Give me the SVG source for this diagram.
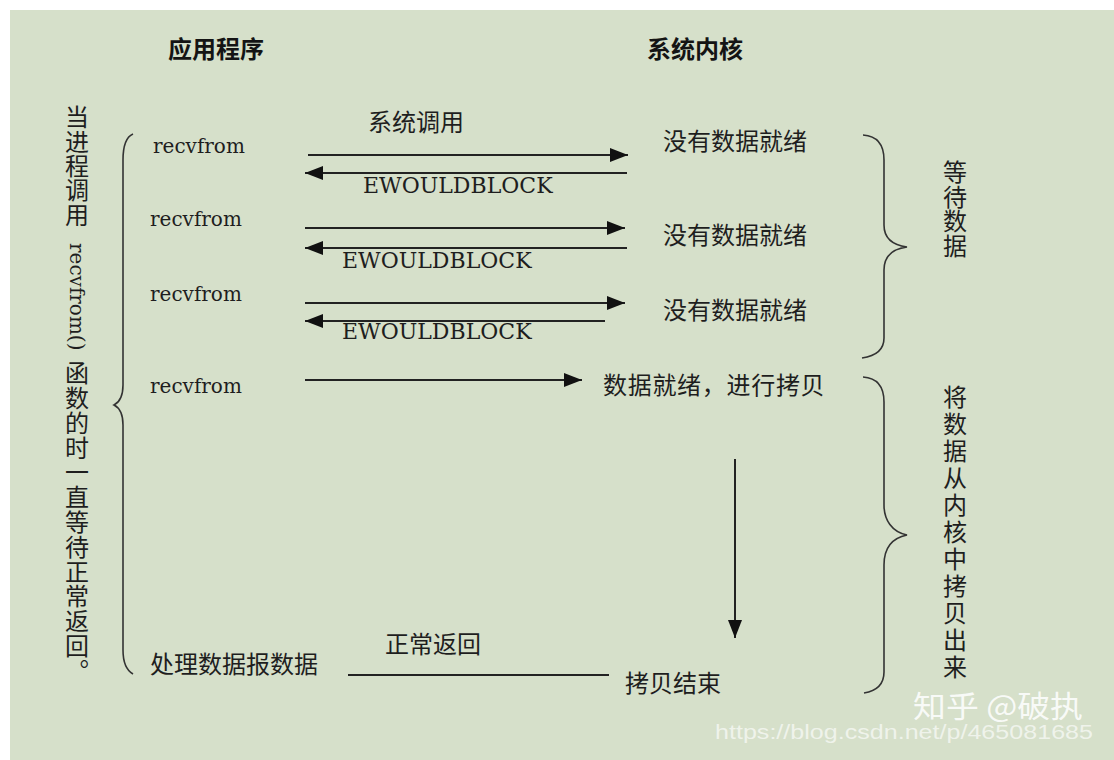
<svg xmlns="http://www.w3.org/2000/svg" width="1114" height="760" viewBox="0 0 1114 760">
<defs>
<style>
.cjk{font-family:"Noto Sans CJK SC","Noto Sans",sans-serif;font-size:24px;fill:#1e1e1e}
.hdr{font-family:"Noto Sans CJK SC","Noto Sans",sans-serif;font-size:24px;font-weight:700;fill:#141414}
.ser{font-family:"DejaVu Serif","Liberation Serif",serif;fill:#1e1e1e}
.vert{writing-mode:vertical-rl}
.ln{stroke:#222;stroke-width:2;fill:none}
.br{stroke:#333;stroke-width:1.6;fill:none}
.wm{font-family:"Noto Sans CJK SC","Liberation Sans",sans-serif;fill:#ffffff}
.url{font-family:"Liberation Sans",Arial,sans-serif;fill:#ffffff}
</style>
<marker id="ah" markerUnits="userSpaceOnUse" markerWidth="18" markerHeight="14" refX="18" refY="7" orient="auto">
<path d="M0,0 L18,7 L0,14 z" fill="#111"/>
</marker>
</defs>
<rect x="0" y="0" width="1114" height="760" fill="#ffffff"/>
<rect x="10" y="10" width="1104" height="750" fill="#d6e0ca"/>

<g id="headers">
<text class="hdr" x="168" y="58">应用程序</text>
<text class="hdr" x="647" y="58">系统内核</text>
</g>

<g id="left-note">
<text class="cjk vert" x="77" y="105" letter-spacing="0.4">当进程调用</text>
<text class="ser vert" x="77" y="243" font-size="20">recvfrom()</text>
<text class="cjk vert" x="77" y="361" letter-spacing="0.8">函数的时一直等待正常返回。</text>
</g>

<g id="app-side">
<text class="ser" x="153" y="153" font-size="20">recvfrom</text>
<text class="ser" x="150" y="226" font-size="20">recvfrom</text>
<text class="ser" x="150" y="301" font-size="20">recvfrom</text>
<text class="ser" x="150" y="393" font-size="20">recvfrom</text>
<text class="cjk" x="150" y="673">处理数据报数据</text>
</g>

<g id="kernel-side">
<text class="cjk" x="663" y="150">没有数据就绪</text>
<text class="cjk" x="663" y="244">没有数据就绪</text>
<text class="cjk" x="663" y="319">没有数据就绪</text>
<text class="cjk" x="603" y="394" letter-spacing="0.7">数据就绪，进行拷贝</text>
<text class="cjk" x="625" y="692">拷贝结束</text>
</g>

<g id="labels">
<text class="cjk" x="368" y="131">系统调用</text>
<text class="ser" x="363" y="193" font-size="22">EWOULDBLOCK</text>
<text class="ser" x="342" y="268" font-size="22">EWOULDBLOCK</text>
<text class="ser" x="342" y="339" font-size="22">EWOULDBLOCK</text>
<text class="cjk" x="385" y="653">正常返回</text>
</g>

<g id="phases">
<text class="cjk vert" x="955" y="160" letter-spacing="0.5">等待数据</text>
<text class="cjk vert" x="955" y="385" letter-spacing="3">将数据从内核中拷贝出来</text>
</g>

<g id="braces">
<path class="br" d="M133,134 C126,137 123,145 123,160 L123,385 C123,396 120,402 114,405 C120,408 123,414 123,425 L123,650 C123,662 126,670 133,674"/>
<path class="br" d="M863,135 C878,136 884,145 884,160 L884,225 C884,238 892,245 907,247 C892,249 884,256 884,270 L884,338 C884,350 876,356 862,358"/>
<path class="br" d="M863,377 C878,378 884,387 884,402 L884,505 C884,520 892,532 907,535 C892,538 884,548 884,565 L884,672 C884,685 876,691 864,693"/>
</g>

<g id="connectors">
<line class="ln" x1="308" y1="155" x2="628" y2="155" marker-end="url(#ah)"/>
<line class="ln" x1="627" y1="173" x2="305" y2="173" marker-end="url(#ah)"/>
<line class="ln" x1="305" y1="228" x2="625" y2="228" marker-end="url(#ah)"/>
<line class="ln" x1="627" y1="248" x2="305" y2="248" marker-end="url(#ah)"/>
<line class="ln" x1="305" y1="303" x2="625" y2="303" marker-end="url(#ah)"/>
<line class="ln" x1="605" y1="321" x2="305" y2="321" marker-end="url(#ah)"/>
<line class="ln" x1="305" y1="380" x2="582" y2="380" marker-end="url(#ah)"/>
<line class="ln" x1="735" y1="459" x2="735" y2="638" marker-end="url(#ah)"/>
<line class="ln" x1="348" y1="675" x2="609" y2="675"/>
</g>

<g id="watermark" opacity="0.85">
<text class="wm" x="913" y="717" font-size="30" textLength="170" lengthAdjust="spacingAndGlyphs">知乎 @破执</text>
<text class="url" x="715" y="739" font-size="20" opacity="0.75" textLength="378" lengthAdjust="spacingAndGlyphs">https://blog.csdn.net/p/465081685</text>
</g>
</svg>
